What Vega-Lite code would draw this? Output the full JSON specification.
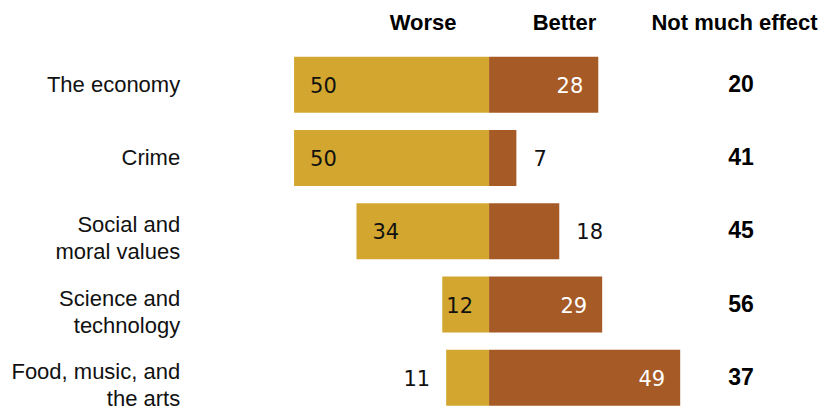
{
  "$schema": "https://vega.github.io/schema/vega-lite/v6.json",
  "width": 828,
  "height": 413,
  "padding": 0,
  "autosize": {"type": "none"},
  "background": "white",
  "config": {"view": {"stroke": null}},
  "data": {
    "values": [
      {"cat": "The economy", "label": ["The economy"], "worse": 50, "better": 28, "nme": 20},
      {"cat": "Crime", "label": ["Crime"], "worse": 50, "better": 7, "nme": 41},
      {"cat": "Social and moral values", "label": ["Social and", "moral values"], "worse": 34, "better": 18, "nme": 45},
      {"cat": "Science and technology", "label": ["Science and", "technology"], "worse": 12, "better": 29, "nme": 56},
      {"cat": "Food, music, and the arts", "label": ["Food, music, and", "the arts"], "worse": 11, "better": 49, "nme": 37}
    ]
  },
  "encoding": {
    "y": {
      "field": "cat",
      "type": "nominal",
      "sort": null,
      "axis": null,
      "scale": {"paddingInner": 0.235, "paddingOuter": 0.4366, "align": 0.8875}
    }
  },
  "layer": [
    {
      "layer": [
        {
          "mark": {"type": "bar", "color": "#D3A72F"},
          "encoding": {
            "x": {"field": "worse", "type": "quantitative", "axis": null, "scale": {"domain": [-86.9, 125.4], "reverse": true, "nice": false, "zero": false}},
            "x2": {"datum": 0}
          }
        },
        {
          "transform": [{"filter": "datum.worse >= 20"}],
          "mark": {"type": "text", "align": "left", "baseline": "middle", "dx": 16, "dy": 2, "font": "DejaVu Sans", "fontSize": 21, "color": "#111"},
          "encoding": {
            "x": {"field": "worse", "type": "quantitative", "axis": null, "scale": {"domain": [-86.9, 125.4], "reverse": true, "nice": false, "zero": false}},
            "text": {"field": "worse"}
          }
        },
        {
          "transform": [{"filter": "datum.worse >= 12 && datum.worse < 20"}],
          "mark": {"type": "text", "align": "left", "baseline": "middle", "dx": 4, "dy": 2, "font": "DejaVu Sans", "fontSize": 21, "color": "#111"},
          "encoding": {
            "x": {"field": "worse", "type": "quantitative", "axis": null, "scale": {"domain": [-86.9, 125.4], "reverse": true, "nice": false, "zero": false}},
            "text": {"field": "worse"}
          }
        },
        {
          "transform": [{"filter": "datum.worse < 12"}],
          "mark": {"type": "text", "align": "right", "baseline": "middle", "dx": -16, "dy": 2, "font": "DejaVu Sans", "fontSize": 21, "color": "#111"},
          "encoding": {
            "x": {"field": "worse", "type": "quantitative", "axis": null, "scale": {"domain": [-86.9, 125.4], "reverse": true, "nice": false, "zero": false}},
            "text": {"field": "worse"}
          }
        }
      ]
    },
    {
      "layer": [
        {
          "mark": {"type": "bar", "color": "#A65A26"},
          "encoding": {
            "x": {
              "field": "better",
              "type": "quantitative",
              "scale": {"domain": [-125.4, 86.9], "nice": false, "zero": false},
              "axis": {
                "orient": "top",
                "values": [-17.05, 19.2, 62.8],
                "labelExpr": "datum.value < 0 ? 'Worse' : (datum.value < 40 ? 'Better' : 'Not much effect')",
                "domain": false,
                "ticks": false,
                "grid": false,
                "title": null,
                "labelFont": "Liberation Sans",
                "labelFontWeight": "bold",
                "labelFontSize": 22,
                "labelColor": "#000",
                "labelPadding": 0,
                "offset": -34,
                "labelOverlap": false,
                "labelBound": false,
                "labelFlush": false
              }
            },
            "x2": {"datum": 0}
          }
        },
        {
          "transform": [{"filter": "datum.better >= 20"}],
          "mark": {"type": "text", "align": "right", "baseline": "middle", "dx": -15, "dy": 2, "font": "DejaVu Sans", "fontSize": 21, "color": "#ffffff"},
          "encoding": {
            "x": {"field": "better", "type": "quantitative", "scale": {"domain": [-125.4, 86.9], "nice": false, "zero": false}},
            "text": {"field": "better"}
          }
        },
        {
          "transform": [{"filter": "datum.better < 20"}],
          "mark": {"type": "text", "align": "left", "baseline": "middle", "dx": 17, "dy": 2, "font": "DejaVu Sans", "fontSize": 21, "color": "#111"},
          "encoding": {
            "x": {"field": "better", "type": "quantitative", "scale": {"domain": [-125.4, 86.9], "nice": false, "zero": false}},
            "text": {"field": "better"}
          }
        },
        {
          "transform": [{"filter": "length(datum.label) == 1"}],
          "mark": {"type": "text", "align": "right", "baseline": "middle", "font": "Liberation Sans", "fontSize": 22, "lineHeight": 27, "color": "#111"},
          "encoding": {
            "x": {"datum": -79.2, "type": "quantitative", "scale": {"domain": [-125.4, 86.9], "nice": false, "zero": false}},
            "text": {"field": "label"}
          }
        },
        {
          "transform": [{"filter": "length(datum.label) > 1"}],
          "mark": {"type": "text", "align": "right", "baseline": "middle", "dy": -6, "font": "Liberation Sans", "fontSize": 22, "lineHeight": 27, "color": "#111"},
          "encoding": {
            "x": {"datum": -79.2, "type": "quantitative", "scale": {"domain": [-125.4, 86.9], "nice": false, "zero": false}},
            "text": {"field": "label"}
          }
        },
        {
          "mark": {"type": "text", "align": "center", "baseline": "middle", "font": "Liberation Sans", "fontWeight": "bold", "fontSize": 23, "color": "#000"},
          "encoding": {
            "x": {"datum": 64.6, "type": "quantitative", "scale": {"domain": [-125.4, 86.9], "nice": false, "zero": false}},
            "text": {"field": "nme"}
          }
        }
      ]
    }
  ],
  "resolve": {"scale": {"x": "independent"}}
}
